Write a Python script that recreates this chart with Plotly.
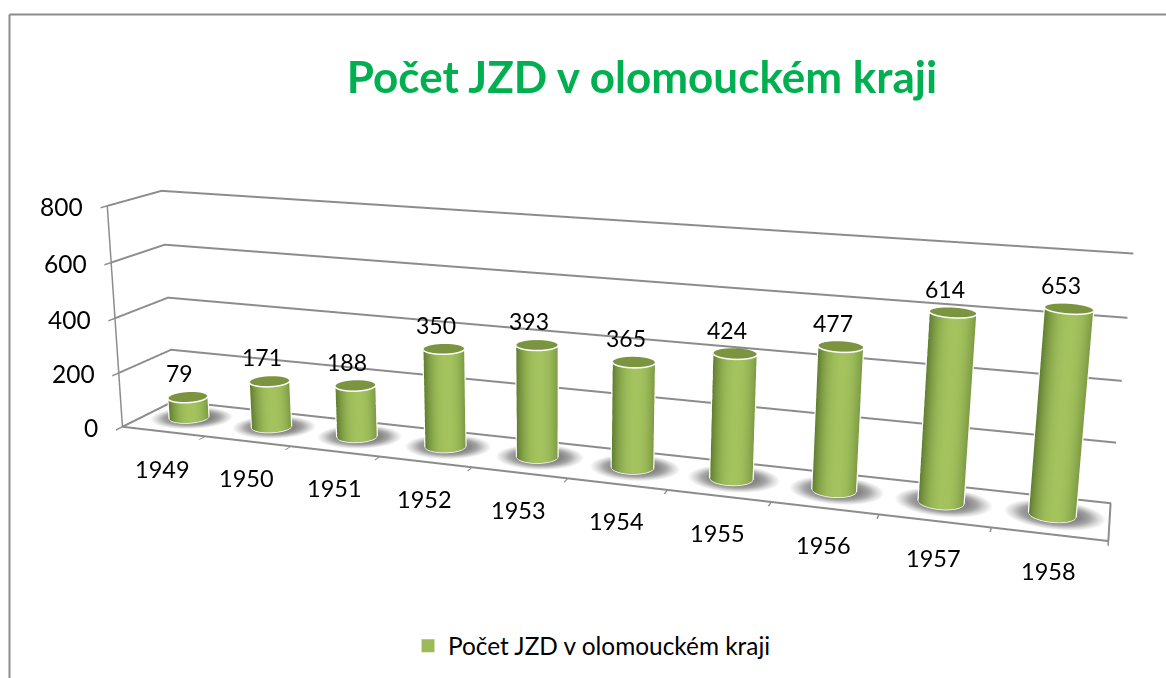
import numpy as np
import plotly.graph_objects as go

years = ["1949","1950","1951","1952","1953","1954","1955","1956","1957","1958"]
counts = [79,171,188,350,393,365,424,477,614,653]
z_ticks = [0,200,400,600,800]
series_name = "Počet JZD v olomouckém kraji"

PW, PH = 1166, 678
SCALE = 2
W, H = PW*SCALE, PH*SCALE
OX, OY = (W-PW)//2, (H-PH)//2
eye = np.array([0.4853,-1.4705,0.4098])
cen = np.array([0.4734,-1.4346,0.4000])
up = np.array([-0.0699,0.1940,1.0332])
ax,ay,az = 1.0,0.1007,0.2372

def px(x): return (x+OX)/W
def py(y): return 1-(y+OY)/H

n=48
th=np.linspace(0,2*np.pi,n,endpoint=False)
RX,RY=0.205,0.2
def lerp(a,b,t): return a+(b-a)*t
def col(v): return f"rgb({int(v[0])},{int(v[1])},{int(v[2])})"
dark=np.array([95,125,48.]); light=np.array([165,196,95.]); cap="rgb(122,148,64)"

X,Y,Z,I,J_,K,C=[],[],[],[],[],[],[]
lx,ly,lz=[],[],[]
for i,v in enumerate(counts):
    cx=i+.5; cy=.5
    # view-dependent silhouette of the elliptical cylinder
    A=(eye[0]-(cx/10-.5)*ax)/(RX/10*ax); B=eye[1]/(RY*ay)
    tc=np.arctan2(B,A); phi=np.arccos(1/np.hypot(A,B))
    b=len(X)
    rings=[(.5,135),(.68,165),(.84,215),(1,255)]
    sx,sy=cx+.02,cy+.02
    X.append(sx);Y.append(sy);Z.append(0);C.append(col([135]*3))
    for fr,g in rings:
        for t in th:
            X.append(sx+.45*fr*np.cos(t));Y.append(sy+.40*fr*np.sin(t));Z.append(0);C.append(col([g]*3))
    for q in range(n):
        I.append(b);J_.append(b+1+q);K.append(b+1+(q+1)%n)
    for ri in range(3):
        o=b+1+ri*n
        for q in range(n):
            a1,a2=o+q,o+(q+1)%n
            b1,b2=a1+n,a2+n
            I+= [a1,a2];J_+=[b1,b1];K+=[a2,b2]
    b=len(X)
    for h in (0,v):
        for t in th:
            X.append(cx+RX*np.cos(t));Y.append(cy+RY*np.sin(t));Z.append(h)
            pos=np.sin(t-tc)/np.sin(phi)
            u=np.clip(abs(pos-.12)/1.12,0,1)
            C.append(col(lerp(light,dark,u**2.2)))
    for q in range(n):
        a1,a2=b+q,b+(q+1)%n
        b1,b2=a1+n,a2+n
        I+=[a1,a2];J_+=[b1,b1];K+=[a2,b2]
    b=len(X)
    X.append(cx);Y.append(cy);Z.append(v);C.append(cap)
    for t in th:
        X.append(cx+RX*np.cos(t));Y.append(cy+RY*np.sin(t));Z.append(v);C.append(cap)
    for q in range(n):
        I.append(b);J_.append(b+1+q);K.append(b+1+(q+1)%n)
    arc=np.linspace(tc-phi,tc+phi,25)
    ex=cx+RX*1.02*np.cos(arc); ey=cy+RY*1.02*np.sin(arc)
    lx+=list(ex)+list(ex[::-1])+[ex[0],None]
    ly+=list(ey)+list(ey[::-1])+[ey[0],None]
    lz+=[v]*25+[0]*25+[v,None]

fig=go.Figure()
fig.add_trace(go.Mesh3d(x=X,y=Y,z=Z,i=I,j=J_,k=K,vertexcolor=C,flatshading=False,
    lighting=dict(ambient=1,diffuse=0,specular=0,roughness=1,fresnel=0),hoverinfo="skip",showlegend=False))
fig.add_trace(go.Scatter3d(x=lx,y=ly,z=lz,mode="lines",line=dict(color="white",width=3),hoverinfo="skip",showlegend=False))
fig.add_trace(go.Scatter3d(x=[0,10,10,0,0],y=[0,0,1,1,0],z=[0,0,0,0,0],mode="lines",
    line=dict(color="#8c8c8c",width=4),hoverinfo="skip",showlegend=False))
fig.add_trace(go.Scatter3d(x=[None],y=[None],z=[None],mode="markers",name=series_name,
    marker=dict(color="#9BBB59",size=13,symbol="square")))

ann=[]
F="Lato"
for i,(y,v) in enumerate(zip(years,counts)):
    ann.append(dict(x=i+.5,y=.5,z=v,text=str(v),showarrow=False,xshift=-8,yshift=24,xanchor="center",yanchor="middle",font=dict(family=F,size=23,color="black")))
    ann.append(dict(x=i+.5,y=0,z=0,text=y,showarrow=False,xshift=-1,yshift=-37,xanchor="center",yanchor="middle",font=dict(family=F,size=23.5,color="black")))
for t in z_ticks:
    ann.append(dict(x=0,y=0,z=t,text=str(t),showarrow=False,xshift=-22,yshift=-1,xanchor="right",yanchor="middle",font=dict(family=F,size=24.5,color="black")))

GC="#8c8c8c"
fig.update_layout(
    width=W,height=H,margin=dict(l=0,r=0,t=0,b=0),paper_bgcolor="white",
    font=dict(family=F,color="black"),
    title=dict(text="Počet JZD v olomouckém kraji",x=px(642),y=py(78),xanchor="center",yanchor="middle",
               font=dict(family=F,size=44,color="#00B050",weight=700)),
    legend=dict(x=px(592),y=py(646),xanchor="center",yanchor="middle",font=dict(family=F,size=24.4,color="black")),
    scene=dict(
        domain=dict(x=[0,1],y=[0,1]),
        aspectmode="manual",aspectratio=dict(x=ax,y=ay,z=az),
        camera=dict(eye=dict(x=eye[0],y=eye[1],z=eye[2]),center=dict(x=cen[0],y=cen[1],z=cen[2]),up=dict(x=up[0],y=up[1],z=up[2]),projection=dict(type="perspective")),
        xaxis=dict(range=[0,10],tickvals=list(range(11)),showticklabels=False,ticks="outside",ticklen=14,tickcolor=GC,tickwidth=3,showgrid=False,zeroline=False,showbackground=False,showspikes=False,title=dict(text=""),showline=False),
        yaxis=dict(range=[0,1],showticklabels=False,ticks="",showgrid=False,zeroline=False,showbackground=False,showspikes=False,title=dict(text=""),showline=False),
        zaxis=dict(range=[0,800],tickvals=z_ticks,showticklabels=False,ticks="outside",ticklen=6,tickcolor=GC,tickwidth=3,
                   showgrid=True,gridcolor=GC,gridwidth=4,zeroline=False,showbackground=False,showspikes=False,title=dict(text=""),
                   showline=True,linecolor=GC,linewidth=3),
        annotations=ann),
    shapes=[dict(type="line",xref="paper",yref="paper",x0=px(9.5),x1=px(9.5),y0=py(678),y1=py(14.5),line=dict(color=GC,width=2)),
            dict(type="line",xref="paper",yref="paper",x0=px(9.5),x1=px(1166),y0=py(14.5),y1=py(14.5),line=dict(color=GC,width=2))],
)
shift=f"document.body.style.margin='0';document.body.style.overflow='hidden';document.documentElement.style.overflow='hidden';document.body.firstElementChild.style.marginLeft='-{OX}px';document.body.firstElementChild.style.marginTop='-{OY}px';"
fig.write_html("out.html",post_script=shift)
